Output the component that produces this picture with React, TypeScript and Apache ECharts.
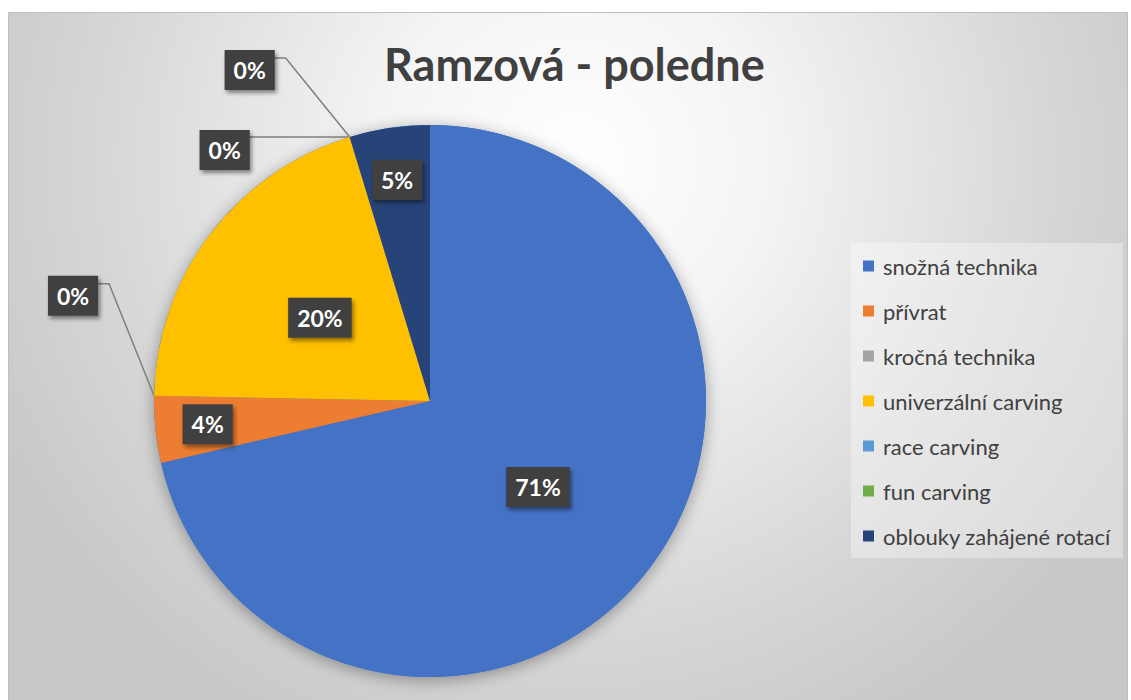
import React, { useEffect, useRef } from "react";
import * as echarts from "echarts";

const chartTitle = "Ramzová - poledne";
const categories = [
  "snožná technika",
  "přívrat",
  "kročná technika",
  "univerzální carving",
  "race carving",
  "fun carving",
  "oblouky zahájené rotací",
];
const values = [71.4, 3.9, 0, 20.0, 0, 0, 4.7];
const colors = ["#4472C4", "#ED7D31", "#A5A5A5", "#FFC000", "#5B9BD5", "#70AD47", "#264478"];

const CENTER: [number, number] = [430, 401];
const RADIUS = 276;
const FONT = "Lato, 'Open Sans', sans-serif";

// callout offsets (relative to the slice edge point) for zero-value labels
const CALLOUTS: Record<number, { box: [number, number]; elbow: [number, number]; end: [number, number] }> = {
  2: { box: [-81, -100], elbow: [-45, -112], end: [-56, -112] },
  4: { box: [-125, 13], elbow: [-101, 0], end: [-101, 0] },
  5: { box: [-100, -67], elbow: [-64, -79], end: [-75, -79] },
};

function sliceAngles(i: number) {
  const total = values.reduce((a, b) => a + b, 0);
  const before = values.slice(0, i).reduce((a, b) => a + b, 0);
  const start = (before / total) * Math.PI * 2;
  const end = ((before + values[i]) / total) * Math.PI * 2;
  return { start, end, frac: values[i] / total };
}

function polar(angle: number, r: number): [number, number] {
  return [CENTER[0] + r * Math.sin(angle), CENTER[1] - r * Math.cos(angle)];
}

export default function App() {
  const ref = useRef<HTMLDivElement>(null);
  useEffect(() => {
    if (!ref.current) return;
    const chart = echarts.init(ref.current, undefined, { renderer: "svg" });
    const labelBase = {
      show: true,
      position: "inside",
      formatter: (p: any) => Math.round(p.percent) + "%",
      color: "#ffffff",
      fontFamily: FONT,
      fontWeight: "bold",
      fontSize: 23,
      lineHeight: 24,
      backgroundColor: "#404040",
      padding: [8, 9],
      shadowBlur: 4,
      shadowColor: "rgba(0,0,0,0.45)",
      shadowOffsetX: 2,
      shadowOffsetY: 3,
    };
    const data = categories.map((name, i) => {
      const item: any = { name, value: values[i], itemStyle: { color: colors[i] } };
      if (values[i] === 0) {
        item.label = { position: "outside" };
        item.labelLine = { show: true };
      } else {
        item.labelLine = { show: false };
      }
      return item;
    });
    chart.setOption({
      animation: false,
      graphic: [
        {
          type: "rect",
          silent: true,
          z: -10,
          shape: { x: 8.5, y: 12.5, width: 1119, height: 700 },
          style: {
            fill: new echarts.graphic.RadialGradient(
              575,
              160,
              640,
              [
                { offset: 0, color: "#ffffff" },
                { offset: 0.3, color: "#f4f4f4" },
                { offset: 0.75, color: "#d6d6d6" },
                { offset: 1, color: "#c8c8c8" },
              ],
              true
            ),
            stroke: "#bfbfbf",
            lineWidth: 1,
          },
        },
      ],
      title: {
        text: chartTitle,
        left: 379,
        top: 36,
        padding: 5,
        textStyle: { fontFamily: FONT, fontSize: 45, fontWeight: "bold", color: "#404040", lineHeight: 45 },
      },
      legend: {
        orient: "vertical",
        left: 851,
        top: 243,
        icon: "rect",
        itemWidth: 11,
        itemHeight: 11,
        itemGap: 21,
        padding: [11, 12, 10, 12],
        backgroundColor: "rgba(255,255,255,0.35)",
        textStyle: { fontFamily: FONT, fontSize: 22, color: "#404040", lineHeight: 24, padding: [0, 0, 0, 4] },
        data: categories,
        selectedMode: false,
      },
      series: [
        {
          type: "pie",
          silent: true,
          z: 1,
          center: CENTER,
          radius: RADIUS,
          legendHoverLink: false,
          data: [{ name: "__shadow", value: 1 }],
          label: { show: false },
          labelLine: { show: false },
          itemStyle: {
            color: "#4472C4",
            borderWidth: 0,
            shadowBlur: 16,
            shadowColor: "rgba(0,0,0,0.35)",
            shadowOffsetY: 3,
          },
          emphasis: { disabled: true },
        },
        {
          type: "pie",
          z: 2,
          center: CENTER,
          radius: RADIUS,
          startAngle: 90,
          clockwise: true,
          avoidLabelOverlap: false,
          itemStyle: { borderWidth: 0 },
          emphasis: { disabled: true },
          label: labelBase,
          labelLine: { show: false, smooth: false, lineStyle: { color: "#7f7f7f", width: 1.5 } },
          labelLayout: (p: any) => {
            const i = p.dataIndex;
            const a = sliceAngles(i);
            if (values[i] === 0) {
              const c = CALLOUTS[i];
              const anchor = polar(a.start, RADIUS);
              if (!c) return {};
              return {
                x: anchor[0] + c.box[0],
                y: anchor[1] + c.box[1],
                align: "center",
                verticalAlign: "middle",
                labelLinePoints: [
                  anchor,
                  [anchor[0] + c.elbow[0], anchor[1] + c.elbow[1]],
                  [anchor[0] + c.end[0], anchor[1] + c.end[1]],
                ],
              };
            }
            const factor = a.frac < 0.1 ? 0.81 : 0.5;
            const pos = polar((a.start + a.end) / 2, RADIUS * factor);
            return { x: pos[0], y: pos[1], align: "center", verticalAlign: "middle" };
          },
          data,
        },
      ],
    });
    return () => chart.dispose();
  }, []);
  return (
    <div
      ref={ref}
      style={{ position: "absolute", left: 0, top: 0, width: 1131, height: 700 }}
    />
  );
}
